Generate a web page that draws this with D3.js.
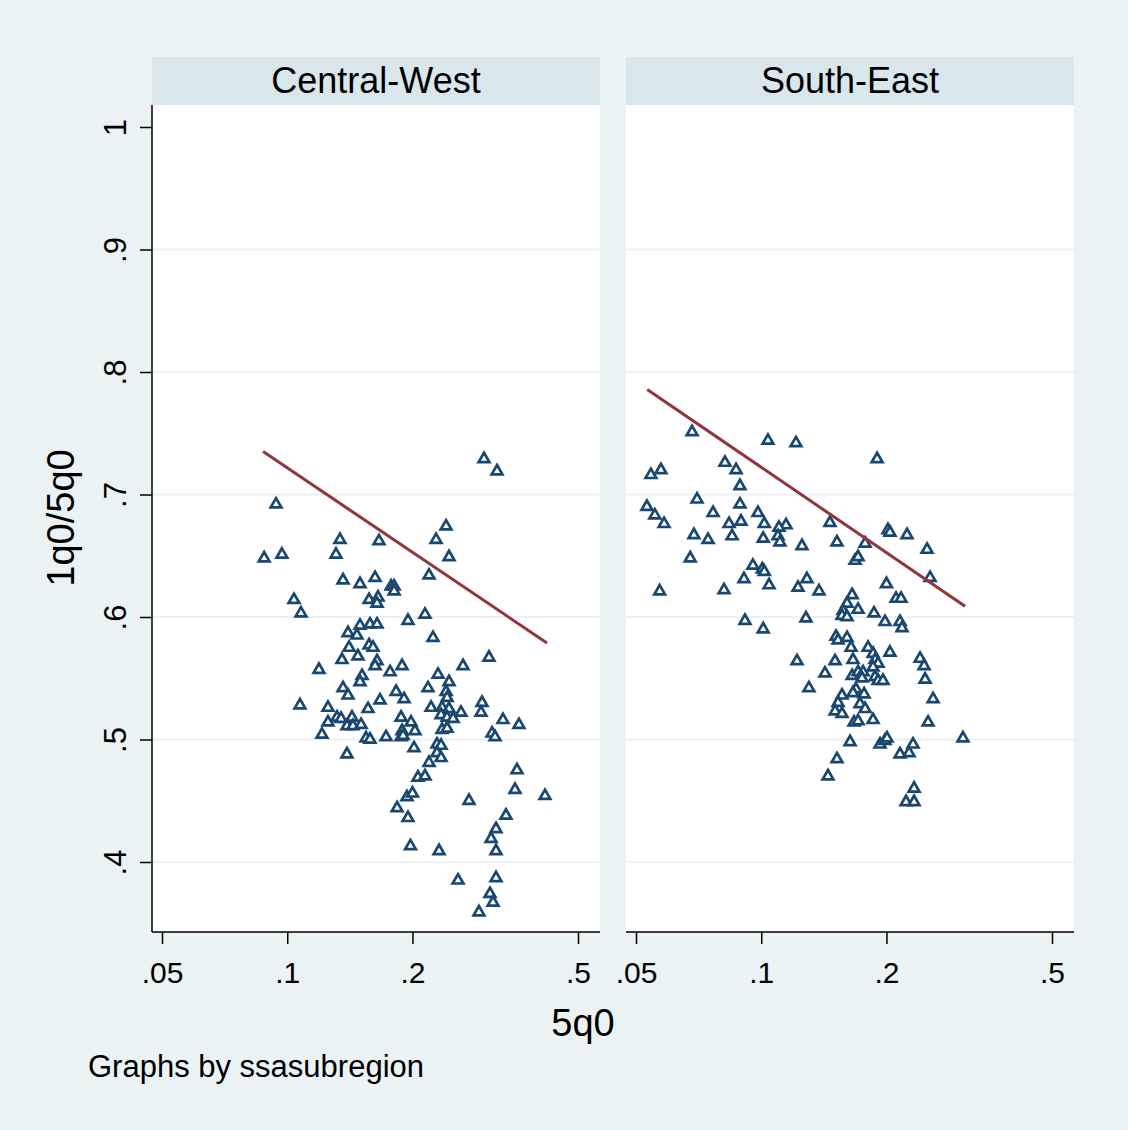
<!DOCTYPE html>
<html>
<head>
<meta charset="utf-8">
<script src="https://cdn.jsdelivr.net/npm/d3@7"></script>
<style>
  body { margin: 0; background: #eaf2f3; }
  text { font-family: "Liberation Sans", Arial, sans-serif; fill: #000; }
</style>
</head>
<body>
<svg id="chart" width="1128" height="1130"></svg>
<script>
// panels (by ssasubregion)
var panels = ["Central-West", "South-East"];
var xTicks = [0.05, 0.1, 0.2, 0.5];
var yTicks = [0.4, 0.5, 0.6, 0.7, 0.8, 0.9, 1];

// 5q0, 1q0/5q0 pairs
var cwPoints = [
  [0.0940,0.692],[0.1339,0.663],[0.0880,0.648],[0.0971,0.651],[0.1310,0.651],[0.1662,0.662],
  [0.1362,0.630],[0.1496,0.627],[0.1626,0.632],[0.1573,0.614],[0.1653,0.616],[0.1644,0.611],
  [0.1038,0.614],[0.1079,0.603],[0.2972,0.729],[0.3194,0.719],[0.2409,0.674],[0.2279,0.663],
  [0.2449,0.649],[0.2192,0.634],[0.1777,0.625],[0.1807,0.625],[0.1807,0.621],[0.2144,0.602],
  [0.1951,0.597],[0.1496,0.593],[0.1581,0.594],[0.1644,0.594],[0.1400,0.587],[0.1471,0.585],
  [0.1408,0.575],[0.1573,0.577],[0.1608,0.575],[0.1354,0.565],[0.1479,0.568],[0.1644,0.564],
  [0.1626,0.560],[0.1192,0.557],[0.1513,0.552],[0.1496,0.547],[0.1362,0.542],[0.1400,0.536],
  [0.1671,0.532],[0.1073,0.528],[0.1253,0.526],[0.1564,0.525],[0.1317,0.518],[0.1347,0.517],
  [0.1431,0.518],[0.1253,0.514],[0.1392,0.511],[0.1439,0.511],[0.1505,0.512],[0.1212,0.504],
  [0.1547,0.501],[0.1581,0.500],[0.1392,0.488],[0.2241,0.583],[0.3055,0.567],[0.1888,0.560],
  [0.2646,0.560],[0.1767,0.555],[0.2304,0.553],[0.2449,0.547],[0.2180,0.542],[0.2409,0.539],
  [0.2423,0.534],[0.1827,0.539],[0.1909,0.533],[0.2939,0.530],[0.2217,0.526],[0.2356,0.526],
  [0.2449,0.525],[0.2616,0.522],[0.2923,0.522],[0.2343,0.520],[0.2423,0.518],[0.2504,0.517],
  [0.1878,0.518],[0.1984,0.514],[0.3301,0.516],[0.3606,0.512],[0.1888,0.507],[0.2028,0.507],
  [0.2356,0.508],[0.2423,0.509],[0.1878,0.502],[0.1899,0.503],[0.1728,0.502],[0.3107,0.505],
  [0.3159,0.502],[0.2291,0.496],[0.2343,0.495],[0.2017,0.493],[0.2291,0.489],[0.2343,0.485],
  [0.2192,0.481],[0.3567,0.475],[0.2062,0.469],[0.2144,0.470],[0.3528,0.459],[0.4165,0.454],
  [0.1940,0.453],[0.2000,0.456],[0.2735,0.450],[0.1837,0.444],[0.3356,0.438],[0.1951,0.436],
  [0.3176,0.427],[0.3090,0.419],[0.1978,0.413],[0.2317,0.409],[0.3176,0.409],[0.2574,0.385],
  [0.3176,0.387],[0.3072,0.374],[0.3124,0.367],[0.2890,0.359]
];
var sePoints = [
  [0.0682,0.751],[0.1038,0.744],[0.1212,0.742],[0.1899,0.729],[0.0818,0.726],[0.0574,0.720],
  [0.0870,0.720],[0.0543,0.716],[0.0889,0.707],[0.0701,0.696],[0.0889,0.692],[0.0531,0.690],
  [0.0766,0.685],[0.0982,0.685],[0.0555,0.683],[0.0894,0.678],[0.1463,0.677],[0.1017,0.676],
  [0.0584,0.676],[0.0837,0.676],[0.1147,0.675],[0.1103,0.673],[0.2017,0.671],[0.2039,0.669],
  [0.2241,0.667],[0.0689,0.667],[0.0851,0.666],[0.1097,0.666],[0.1011,0.664],[0.0745,0.663],
  [0.1109,0.661],[0.1521,0.661],[0.1777,0.660],[0.1253,0.658],[0.2504,0.655],[0.0675,0.648],
  [0.1681,0.646],[0.1709,0.649],[0.0955,0.642],[0.1006,0.639],[0.1017,0.637],[0.2546,0.632],
  [0.0909,0.631],[0.1288,0.631],[0.2000,0.627],[0.1044,0.626],[0.1226,0.624],[0.0814,0.622],
  [0.0570,0.621],[0.1377,0.621],[0.1654,0.618],[0.2109,0.615],[0.2168,0.615],[0.1608,0.611],
  [0.1573,0.605],[0.1564,0.601],[0.1608,0.600],[0.1709,0.606],[0.1867,0.603],[0.0914,0.597],
  [0.1281,0.599],[0.1984,0.596],[0.2156,0.596],[0.2180,0.591],[0.1011,0.590],[0.1513,0.584],
  [0.1530,0.581],[0.1608,0.583],[0.1644,0.575],[0.1807,0.575],[0.1857,0.570],[0.1878,0.565],
  [0.2039,0.571],[0.1219,0.564],[0.1505,0.564],[0.1662,0.565],[0.1909,0.562],[0.1857,0.559],
  [0.2409,0.566],[0.2463,0.560],[0.1423,0.554],[0.1654,0.552],[0.1709,0.555],[0.1757,0.555],
  [0.1747,0.550],[0.1878,0.551],[0.1909,0.548],[0.1962,0.548],[0.2477,0.549],[0.1302,0.542],
  [0.1690,0.541],[0.1564,0.536],[0.1662,0.538],[0.1767,0.537],[0.1530,0.530],[0.1728,0.529],
  [0.2589,0.533],[0.1777,0.525],[0.1505,0.523],[0.1564,0.521],[0.1671,0.514],[0.1709,0.515],
  [0.1857,0.516],[0.2518,0.514],[0.1635,0.498],[0.1930,0.496],[0.1984,0.499],[0.2006,0.501],
  [0.2317,0.496],[0.2156,0.488],[0.2266,0.489],[0.3055,0.501],[0.1521,0.484],[0.1447,0.470],
  [0.2330,0.460],[0.2229,0.449],[0.2330,0.449]
];
// linear fit end points
var cwFit = [[0.0875, 0.7351], [0.421, 0.5788]];
var seFit = [[0.0532, 0.7857], [0.309, 0.6088]];

var pointSets = [cwPoints, sePoints];
var fitSets = [cwFit, seFit];

var svg = d3.select('#chart');
var bg = '#eaf2f3';
var navy = '#1a476f';
var maroon = '#90353b';

svg.append('rect').attr('width', 1128).attr('height', 1130).attr('fill', bg);

var plotTop = 105, plotBottom = 932, panelW = 448;
var panelX = [152, 626];

var y = d3.scaleLinear().domain([0.4, 1]).range([862, 127]);

var tri = d3.symbol().type(d3.symbolTriangle).size(50);

panels.forEach(function(name, i) {
  var x0 = panelX[i];
  var x = d3.scaleLog().domain([0.05, 0.5]).range([x0 + 10, x0 + 426]);
  var g = svg.append('g');

  // strip
  g.append('rect').attr('x', x0).attr('y', 57).attr('width', panelW).attr('height', 48)
    .attr('fill', '#d9e6eb');
  g.append('text').attr('x', x0 + panelW / 2).attr('y', 93)
    .attr('text-anchor', 'middle').attr('font-size', 36).text(name);

  // plot region
  g.append('rect').attr('x', x0).attr('y', plotTop).attr('width', panelW)
    .attr('height', plotBottom - plotTop).attr('fill', '#fff');

  // grid
  g.selectAll('.grid').data(yTicks.filter(function(t) { return t < 1; }))
    .enter().append('line')
    .attr('x1', x0).attr('x2', x0 + panelW)
    .attr('y1', function(d) { return y(d); }).attr('y2', function(d) { return y(d); })
    .attr('stroke', bg).attr('stroke-width', 2);

  // x axis
  var xAxis = d3.axisBottom(x).tickValues(xTicks).tickSize(12).tickSizeOuter(0)
    .tickFormat(function(d) { return String(d).replace(/^0/, ''); });
  var xg = g.append('g').attr('transform', 'translate(0,' + plotBottom + ')').call(xAxis);
  xg.select('.domain').remove();
  xg.selectAll('line').attr('stroke', '#000').attr('stroke-width', 1.5);
  xg.selectAll('text').attr('y', 51).attr('dy', null).attr('font-size', 30)
    .attr('font-family', '"Liberation Sans", Arial, sans-serif').attr('fill', '#000');
  g.append('line').attr('x1', x0).attr('x2', x0 + panelW)
    .attr('y1', plotBottom).attr('y2', plotBottom)
    .attr('stroke', '#000').attr('stroke-width', 1.5);

  // y axis only on the first panel
  if (i === 0) {
    var yAxis = d3.axisLeft(y).tickValues(yTicks).tickSize(12).tickSizeOuter(0)
      .tickFormat(function(d) { return String(d).replace(/^0/, ''); });
    var yg = g.append('g').attr('transform', 'translate(' + x0 + ',0)').call(yAxis);
    yg.select('.domain').remove();
    yg.selectAll('line').attr('stroke', '#000').attr('stroke-width', 1.5);
    yg.selectAll('text')
      .attr('x', null).attr('dy', null)
      .attr('transform', 'translate(-26,0) rotate(-90)')
      .attr('text-anchor', 'middle').attr('font-size', 31)
      .attr('font-family', '"Liberation Sans", Arial, sans-serif').attr('fill', '#000');
    g.append('line').attr('x1', x0).attr('x2', x0)
      .attr('y1', plotTop).attr('y2', plotBottom)
      .attr('stroke', '#000').attr('stroke-width', 1.5);
  }

  // points
  g.selectAll('.pt').data(pointSets[i]).enter().append('path')
    .attr('d', tri)
    .attr('transform', function(d) { return 'translate(' + x(d[0]) + ',' + y(d[1]) + ')'; })
    .attr('fill', '#fff').attr('stroke', navy).attr('stroke-width', 2.7);

  // fitted line
  var line = d3.line().x(function(d) { return x(d[0]); }).y(function(d) { return y(d[1]); });
  g.append('path').datum(fitSets[i]).attr('d', line)
    .attr('fill', 'none').attr('stroke', maroon).attr('stroke-width', 3);
});

svg.append('text').attr('x', 583).attr('y', 1036).attr('text-anchor', 'middle')
  .attr('font-size', 38).text('5q0');
svg.append('text').attr('transform', 'translate(74,518) rotate(-90)')
  .attr('text-anchor', 'middle').attr('font-size', 38).text('1q0/5q0');
svg.append('text').attr('x', 88).attr('y', 1077).attr('font-size', 31)
  .text('Graphs by ssasubregion');
</script>
</body>
</html>
